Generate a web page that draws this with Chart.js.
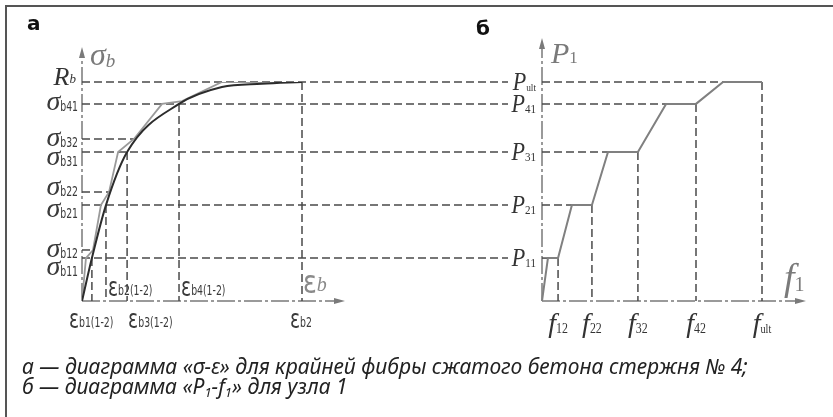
<!DOCTYPE html>
<html lang="ru">
<head>
<meta charset="utf-8">
<title>σ−ε и P−f</title>
<script src="https://cdn.jsdelivr.net/npm/chart.js@4.4.1/dist/chart.umd.min.js"></script>
<style>
  html, body { margin: 0; padding: 0; background: #fff; }
  #wrap { position: relative; width: 833px; height: 417px; overflow: hidden; }
  #frame { position: absolute; left: 5px; top: 5px; right: -10px; bottom: -10px;
           border-left: 2px solid #555; border-top: 2px solid #555; }
  #plot { position: absolute; left: 0; top: 0; }
  #caption { position: absolute; left: 22px; top: 356px; color: #222;
             font: italic 21px "Noto Sans", "Open Sans", sans-serif; line-height: 20px; white-space: nowrap; }
  #caption sub { font-size: 13px; line-height: 0; vertical-align: -3px; }
</style>
</head>
<body>
<div id="wrap">
  <div id="frame"></div>
  <canvas id="plot" width="833" height="417"></canvas>
  <div id="caption">а — диаграмма «σ−ε» для крайней фибры сжатого бетона стержня № 4;<br>б — диаграмма «P<sub>1</sub>−f<sub>1</sub>» для узла 1</div>
</div>
<script>
// Both panels use normalised axes: strain / εb2, stress / Rb, deflection / f_ult, load / P_ult

// panel а: concrete σ−ε curve
const curveEps   = [0, 0.045, 0.109, 0.205, 0.441, 0.636, 0.818, 1.0];
const curveSigma = [0, 0.196, 0.438, 0.680, 0.900, 0.977, 0.992, 1.0];

// panel а: step-by-step (secant) approximation
const approxEps   = [0, 0.018, 0.050, 0.086, 0.123, 0.164, 0.236, 0.364, 0.455, 0.636, 1.0];
const approxSigma = [0, 0.196, 0.233, 0.438, 0.498, 0.680, 0.740, 0.900, 0.913, 1.0, 1.0];

// stress levels of the first and second iteration of each step
const sigmaLevels1 = [0.196, 0.438, 0.680, 0.900, 1.0];
const sigmaLevels2 = [0.233, 0.498, 0.740];
const sigmaLabels1 = [['σ', 'b11'], ['σ', 'b21'], ['σ', 'b31'], ['σ', 'b41'], ['R', 'b']];
const sigmaLabels2 = [['σ', 'b12'], ['σ', 'b22'], ['σ', 'b32']];

// strains marked on the ε axis
const epsMarks  = [0.045, 0.109, 0.205, 0.441, 1.0];
const epsLabels = ['b1(1-2)', 'b2(1-2)', 'b3(1-2)', 'b4(1-2)', 'b2'];

// panel б: load−deflection of node 1
const loadLevels = [0.196, 0.438, 0.680, 0.900, 1.0];
const loadLabels = ['11', '21', '31', '41', 'ult'];
const fFirst     = [0.027, 0.136, 0.300, 0.564, 0.823];
const fSecond    = [0.073, 0.227, 0.436, 0.700, 1.0];
const fLabels    = ['12', '22', '32', '42', 'ult'];

// ---- layout ----
const PAD = { left: 82, top: 82, right: 71, bottom: 116 };
const UNIT = 220;          // px for one normalised unit along x
const B_SHIFT = 460;       // px between the origins of the two panels
const AREA_W = 833 - PAD.left - PAD.right;

// baseline offsets of the stress labels (pairs are split above / below)
const sigma1Dy = [17, 12, 13, 6, 3];
const sigma2Dy = [7, 3, 7];

// label placement under / above the ε axis
const epsLabelPos = [
  { dx: -23, row: 'below' },
  { dx: 2, row: 'above' },
  { dx: 1, row: 'below' },
  { dx: 2, row: 'above' },
  { dx: -12, row: 'below' }
];

const SERIF = '"Liberation Serif", "DejaVu Serif", serif';
const NARROW = '"DejaVu Sans Condensed", "Liberation Sans", sans-serif';
const SUB_SX = 0.74;       // squeeze for the narrow subscripts
const GUIDE = '#4a4a4a';
const AXIS = '#7a7a7a';

function pts(xs, ys) {
  return xs.map((x, i) => ({ x, y: ys[i] }));
}

const loadPath = [{ x: 0, y: 0 }];
fFirst.forEach((f, i) => {
  loadPath.push({ x: f, y: loadLevels[i] }, { x: fSecond[i], y: loadLevels[i] });
});

// text made of several runs (symbol + subscript), each run may be squeezed by sx
function runs(ctx, parts, x, y, align, color) {
  ctx.save();
  let w = 0;
  parts.forEach(p => {
    ctx.font = p.font;
    p.sx = p.sx || 1;
    p.w = ctx.measureText(p.t).width * p.sx;
    w += p.w;
  });
  let cx = align === 'right' ? x - w : align === 'center' ? x - w / 2 : x;
  ctx.textAlign = 'left';
  ctx.textBaseline = 'alphabetic';
  ctx.fillStyle = color;
  parts.forEach(p => {
    ctx.save();
    ctx.font = p.font;
    ctx.translate(cx, y + (p.dy || 0));
    ctx.scale(p.sx, 1);
    ctx.fillText(p.t, 0, 0);
    ctx.restore();
    cx += p.w;
  });
  ctx.restore();
}

function line(ctx, x1, y1, x2, y2) {
  ctx.beginPath();
  ctx.moveTo(x1, y1);
  ctx.lineTo(x2, y2);
  ctx.stroke();
}

function arrow(ctx, x, y, dir) {
  ctx.beginPath();
  if (dir === 'up') {
    ctx.moveTo(x, y); ctx.lineTo(x - 3, y + 11); ctx.lineTo(x + 3, y + 11);
  } else {
    ctx.moveTo(x, y); ctx.lineTo(x - 11, y - 3); ctx.lineTo(x - 11, y + 3);
  }
  ctx.closePath();
  ctx.fill();
}

const sketch = {
  id: 'sketch',
  beforeDatasetsDraw(chart) {
    const { ctx, scales: { xa, xb, y } } = chart;
    const a0 = xa.getPixelForValue(0), b0 = xb.getPixelForValue(0), y0 = y.getPixelForValue(0);
    ctx.save();

    // axes, dash-dot with arrows
    ctx.strokeStyle = AXIS;
    ctx.fillStyle = AXIS;
    ctx.lineWidth = 1.5;
    ctx.setLineDash([18, 3, 3, 3]);
    const topA = y.getPixelForValue(1) - 35, topB = y.getPixelForValue(1) - 44;
    const endA = xa.getPixelForValue(1) + 43, endB = xb.getPixelForValue(1) + 44;
    line(ctx, a0, y0, a0, topA + 6);
    line(ctx, a0, y0, endA - 6, y0);
    line(ctx, b0, y0, b0, topB + 6);
    line(ctx, b0, y0, endB - 6, y0);
    ctx.setLineDash([]);
    arrow(ctx, a0, topA, 'up');
    arrow(ctx, endA, y0, 'right');
    arrow(ctx, b0, topB, 'up');
    arrow(ctx, endB, y0, 'right');

    // dashed guides
    ctx.strokeStyle = GUIDE;
    ctx.lineWidth = 1.5;
    ctx.setLineDash([8, 4]);
    const labelGap = 34;
    sigmaLevels1.forEach(s => {
      const py = y.getPixelForValue(s);
      line(ctx, a0, py, b0 - labelGap, py);
    });
    sigmaLevels2.forEach(s => {
      const e = approxEps[approxSigma.indexOf(s)];
      const py = y.getPixelForValue(s);
      line(ctx, a0, py, xa.getPixelForValue(e), py);
    });
    epsMarks.forEach((e, i) => {
      const px = xa.getPixelForValue(e);
      line(ctx, px, y.getPixelForValue(sigmaLevels1[i]), px, y0);
    });
    loadLevels.forEach((p, i) => {
      const py = y.getPixelForValue(p);
      line(ctx, b0, py, xb.getPixelForValue(fFirst[i]), py);
      const px = xb.getPixelForValue(fSecond[i]);
      line(ctx, px, py, px, y0);
    });
    ctx.restore();
  },
  afterDatasetsDraw(chart) {
    const { ctx, scales: { xa, xb, y } } = chart;
    const a0 = xa.getPixelForValue(0), b0 = xb.getPixelForValue(0), y0 = y.getPixelForValue(0);

    // panel letters
    ctx.save();
    ctx.fillStyle = '#111';
    ctx.font = 'bold 20px "DejaVu Sans", sans-serif';
    ctx.fillText('а', 27, 30);
    ctx.fillText('б', 476, 35);
    ctx.restore();

    // axis titles
    runs(ctx, [
      { t: 'σ', font: 'italic 32px ' + SERIF },
      { t: 'b', font: 'italic 19px ' + SERIF, dy: 2 }
    ], a0 + 8, 65, 'left', '#7a7a7a');
    runs(ctx, [
      { t: 'P', font: 'italic 30px ' + SERIF },
      { t: '1', font: '17px ' + SERIF }
    ], b0 + 9, 63, 'left', '#7a7a7a');
    runs(ctx, [
      { t: 'ε', font: '32px "DejaVu Sans", sans-serif', sx: 0.8 },
      { t: 'b', font: 'italic 20px ' + SERIF, dy: -2 }
    ], xa.getPixelForValue(1) + 1, y0 - 8, 'left', '#8a8a8a');
    runs(ctx, [
      { t: 'f', font: 'italic 38px ' + SERIF },
      { t: '1', font: '20px ' + SERIF, dy: 1 }
    ], xb.getPixelForValue(1) + 22, y0 - 11, 'left', '#7a7a7a');

    // stress labels left of the σ axis
    const drawSigma = (lbl, s, dy) => {
      const py = y.getPixelForValue(s);
      if (lbl[0] === 'R') {
        runs(ctx, [
          { t: 'R', font: 'italic 26px ' + SERIF },
          { t: lbl[1], font: 'italic 13px ' + SERIF, dy: -2 }
        ], a0 - 6, py + dy, 'right', '#333');
      } else {
        runs(ctx, [
          { t: lbl[0], font: 'italic 28px ' + SERIF },
          { t: lbl[1], font: '14px ' + NARROW, sx: SUB_SX, dy: 1 }
        ], a0 - 4, py + dy, 'right', '#3a3a3a');
      }
    };
    sigmaLabels1.forEach((lbl, i) => drawSigma(lbl, sigmaLevels1[i], sigma1Dy[i]));
    sigmaLabels2.forEach((lbl, i) => drawSigma(lbl, sigmaLevels2[i], sigma2Dy[i]));

    // strain labels
    epsMarks.forEach((e, i) => {
      const pos = epsLabelPos[i];
      const base = pos.row === 'below' ? y0 + 27 : y0 - 5;
      runs(ctx, [
        { t: 'ε', font: '26px "DejaVu Sans", sans-serif', sx: 0.72 },
        { t: epsLabels[i], font: '14px ' + NARROW, sx: SUB_SX, dy: -1 }
      ], xa.getPixelForValue(e) + pos.dx, base, 'left', '#3a3a3a');
    });

    // load labels left of the P axis
    loadLevels.forEach((p, i) => {
      const py = y.getPixelForValue(p);
      runs(ctx, [
        { t: 'P', font: 'italic 26px ' + SERIF, sx: 0.85 },
        { t: loadLabels[i], font: (loadLabels[i] === 'ult' ? '11px ' : '13px ') + SERIF, sx: 0.85, dy: 1 }
      ], b0 - 6, py + 8, 'right', '#333');
    });

    // deflection labels under the f axis
    fSecond.forEach((f, i) => {
      runs(ctx, [
        { t: 'f', font: 'italic 28px ' + SERIF },
        { t: fLabels[i], font: (fLabels[i] === 'ult' ? '12px ' : '14px ') + SERIF, sx: 0.85, dy: 1 }
      ], xb.getPixelForValue(f), y0 + 31, 'center', '#333');
    });
  }
};

new Chart(document.getElementById('plot'), {
  type: 'line',
  data: {
    datasets: [
      {
        label: 'σ−ε',
        data: pts(curveEps, curveSigma),
        xAxisID: 'xa',
        yAxisID: 'y',
        borderColor: '#2c2c2c',
        borderWidth: 2,
        cubicInterpolationMode: 'monotone',
        pointRadius: 0,
        fill: false,
        order: 1
      },
      {
        label: 'approx',
        data: pts(approxEps, approxSigma),
        xAxisID: 'xa',
        yAxisID: 'y',
        borderColor: '#9a9a9a',
        borderWidth: 1.8,
        tension: 0,
        pointRadius: 0,
        fill: false,
        order: 2
      },
      {
        label: 'P−f',
        data: loadPath,
        xAxisID: 'xb',
        yAxisID: 'y',
        borderColor: '#808080',
        borderWidth: 2,
        tension: 0,
        pointRadius: 0,
        fill: false,
        clip: false
      }
    ]
  },
  options: {
    responsive: false,
    animation: false,
    events: [],
    layout: { padding: PAD },
    scales: {
      xa: { type: 'linear', display: false, min: 0, max: AREA_W / UNIT },
      xb: { type: 'linear', display: false, min: -B_SHIFT / UNIT, max: (AREA_W - B_SHIFT) / UNIT },
      y: { type: 'linear', display: false, min: 0, max: 1 }
    },
    plugins: {
      legend: { display: false },
      tooltip: { enabled: false }
    }
  },
  plugins: [sketch]
});
</script>
</body>
</html>
